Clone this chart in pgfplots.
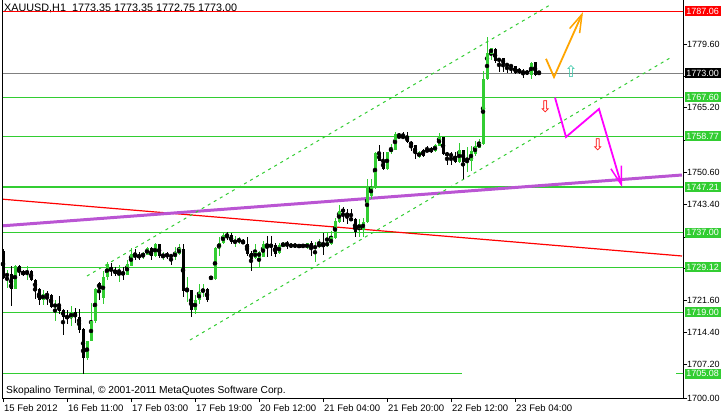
\documentclass[border=0pt]{standalone}
\usepackage{pgfplots}
\pgfplotsset{compat=1.18}
\usepackage{pgfplotstable}
\usepackage{fontspec}
\setmainfont{Liberation Sans}
\newfontfamily\symfont{DejaVu Sans}
\usetikzlibrary{arrows.meta}
\definecolor{cgreen}{RGB}{50,205,50}
\definecolor{cgrey}{RGB}{128,128,128}
\definecolor{corchid}{RGB}{186,85,211}
\definecolor{corange}{RGB}{255,165,0}
\definecolor{cmag}{RGB}{255,0,255}
\definecolor{cup}{RGB}{64,200,170}

\pgfplotstableread{
i o h l c
1 1727.1 1728.6 1724.5 1727.7
3 1724.3 1729.6 1724.2 1729.5
6 1728.0 1729.5 1726.2 1728.1
10 1721.7 1724.1 1720.7 1723.2
13 1720.2 1721.7 1717.0 1720.8
17 1717.6 1720.3 1715.8 1719.1
21 1708.6 1712.5 1708.2 1712.5
22 1712.5 1721.1 1712.4 1717.0
23 1717.0 1724.5 1716.6 1724.3
25 1722.1 1728.4 1720.9 1726.9
26 1726.9 1730.3 1726.2 1729.9
29 1728.0 1729.6 1725.8 1728.4
31 1727.5 1730.8 1727.4 1729.9
32 1729.5 1733.4 1729.4 1732.2
35 1731.6 1732.6 1731.0 1732.3
36 1732.0 1733.7 1731.9 1733.4
38 1731.6 1734.6 1731.5 1734.4
40 1731.6 1732.6 1730.7 1732.0
43 1731.4 1733.7 1730.7 1732.5
44 1732.2 1734.4 1732.0 1733.4
46 1723.8 1726.9 1721.3 1724.1
48 1719.4 1722.8 1718.5 1721.8
49 1721.7 1725.4 1720.9 1723.5
50 1723.5 1725.4 1722.4 1724.2
52 1726.6 1727.0 1726.5 1726.9
53 1726.6 1733.7 1726.2 1733.5
54 1733.4 1735.9 1731.8 1734.7
55 1734.6 1737.1 1734.4 1736.5
58 1734.7 1736.1 1733.7 1735.2
59 1735.0 1736.1 1734.4 1735.4
63 1731.2 1734.3 1731.1 1732.7
64 1731.3 1732.8 1728.9 1732.7
65 1731.4 1735.2 1731.4 1734.4
69 1732.3 1734.6 1732.2 1734.2
70 1733.8 1734.9 1733.7 1734.6
72 1734.0 1734.6 1733.5 1734.1
73 1734.0 1734.6 1733.5 1734.1
76 1733.4 1734.7 1733.3 1734.6
78 1733.4 1734.8 1730.3 1734.0
79 1733.7 1735.6 1733.5 1734.6
81 1733.9 1737.1 1733.7 1734.8
82 1734.3 1737.4 1734.2 1735.9
83 1735.7 1740.4 1735.6 1739.7
84 1739.3 1743.2 1739.1 1741.9
89 1737.8 1740.1 1735.9 1738.9
90 1737.6 1740.2 1735.9 1739.4
91 1739.3 1749.1 1739.2 1747.2
92 1745.3 1749.2 1744.6 1747.4
93 1747.4 1755.1 1746.8 1754.9
96 1751.3 1755.2 1751.2 1755.1
97 1755.1 1757.0 1754.7 1756.2
98 1755.7 1759.7 1755.6 1759.2
104 1754.1 1755.4 1753.9 1755.1
108 1755.4 1757.0 1755.2 1756.7
109 1756.6 1759.6 1756.5 1758.6
114 1753.0 1757.2 1752.8 1755.6
116 1753.0 1756.4 1750.6 1753.3
117 1753.2 1756.6 1750.9 1755.4
118 1754.7 1757.7 1754.3 1756.6
119 1756.2 1758.2 1756.0 1757.2
120 1756.9 1773.4 1756.7 1771.7
121 1771.6 1781.2 1771.5 1777.7
122 1777.4 1778.8 1776.1 1778.7
132 1772.7 1775.6 1771.7 1775.3
}\bull

\pgfplotstableread{
i o h l c
0 1732.9 1733.3 1726.5 1726.8
2 1727.7 1729.5 1720.3 1724.3
4 1729.5 1729.6 1727.1 1728.0
5 1728.2 1728.6 1727.1 1727.5
7 1728.2 1728.6 1726.1 1726.2
8 1726.3 1726.4 1721.9 1724.1
9 1724.3 1724.5 1720.7 1721.7
11 1723.2 1723.9 1720.7 1722.6
12 1722.8 1723.2 1720.0 1720.2
14 1720.5 1722.6 1718.5 1719.3
15 1719.6 1719.7 1713.8 1717.8
16 1718.1 1719.4 1716.4 1717.6
18 1719.0 1720.0 1716.6 1717.8
19 1717.8 1719.8 1714.3 1714.9
20 1715.3 1715.4 1705.1 1708.6
24 1725.6 1725.8 1721.7 1724.3
27 1729.2 1730.1 1727.1 1728.3
28 1728.6 1729.2 1727.1 1727.7
30 1728.1 1729.2 1726.3 1727.5
33 1731.9 1733.3 1730.8 1731.6
34 1731.9 1732.6 1730.7 1731.4
37 1733.4 1733.8 1730.7 1731.6
39 1734.4 1734.5 1731.3 1731.6
41 1732.2 1732.6 1731.1 1731.6
42 1731.8 1732.2 1729.6 1731.6
45 1733.3 1734.4 1722.4 1723.8
47 1723.9 1724.0 1717.8 1719.4
51 1724.2 1724.4 1721.3 1721.8
56 1736.5 1737.1 1735.2 1736.2
57 1736.5 1736.8 1734.4 1734.8
60 1735.2 1735.6 1734.3 1734.4
61 1734.4 1735.9 1731.8 1732.2
62 1732.4 1732.8 1728.4 1731.1
66 1734.4 1736.2 1731.4 1733.8
67 1734.2 1736.2 1731.8 1733.8
68 1734.1 1734.7 1731.4 1732.2
71 1734.7 1735.2 1733.3 1734.1
74 1734.4 1734.5 1733.4 1733.5
75 1734.3 1734.4 1733.5 1733.7
77 1734.6 1735.2 1731.8 1733.3
80 1734.6 1736.8 1732.0 1733.7
85 1742.3 1742.7 1739.3 1741.6
86 1741.5 1742.3 1738.9 1740.6
87 1740.3 1742.3 1739.6 1739.7
88 1740.1 1740.2 1735.9 1737.1
94 1754.9 1756.7 1753.1 1753.2
95 1753.2 1755.2 1751.2 1751.3
99 1758.8 1759.6 1758.4 1758.5
100 1758.8 1759.7 1758.2 1758.4
101 1758.8 1759.7 1757.3 1757.5
102 1757.5 1757.6 1755.4 1756.7
103 1756.7 1756.8 1753.7 1754.7
105 1755.7 1755.8 1754.1 1754.3
106 1755.8 1756.6 1755.1 1755.2
107 1756.0 1756.4 1754.9 1755.2
110 1758.6 1758.7 1754.5 1754.7
111 1754.9 1755.1 1752.2 1754.5
112 1754.8 1755.1 1752.2 1754.2
113 1754.2 1755.1 1752.7 1753.0
115 1755.6 1755.7 1749.1 1753.0
123 1778.5 1778.7 1775.3 1775.7
124 1776.2 1776.4 1773.4 1775.9
125 1776.4 1776.5 1773.2 1775.1
126 1775.1 1775.3 1773.1 1774.7
127 1774.7 1774.9 1773.1 1774.6
128 1774.6 1774.7 1772.9 1773.1
129 1774.0 1774.2 1772.9 1773.1
130 1773.4 1774.0 1772.0 1773.1
131 1773.4 1773.8 1772.5 1772.9
133 1775.5 1775.6 1772.3 1772.7
134 1773.35 1773.35 1772.75 1773.00
}\bear

\newcommand{\candles}[2]{%
  \addplot[only marks, mark=none, forget plot,
    error bars/y dir=both, error bars/y explicit, error bars/error mark=none,
    error bars/error bar style={draw=#2, line width=1pt}]
    table[x=i, y expr={(\thisrow{h}+\thisrow{l})/2}, y error expr={(\thisrow{h}-\thisrow{l})/2}] {#1};
  \addplot[only marks, mark=none, forget plot,
    error bars/y dir=both, error bars/y explicit, error bars/error mark=none,
    error bars/error bar style={draw=#2, line width=3pt}]
    table[x=i, y expr={(\thisrow{o}+\thisrow{c})/2}, y error expr={max(abs(\thisrow{o}-\thisrow{c})/2,0.12)}] {#1};
}

\tikzset{pbox/.style={anchor=west, xshift=1.5pt, inner xsep=1.5pt, inner ysep=0pt,
  minimum height=10pt, minimum width=36pt, text=white, font=\fontsize{9}{10}\selectfont}}

\begin{document}
\begin{tikzpicture}
\useasboundingbox (-2pt,-18pt) rectangle (719pt,398pt);
\begin{axis}[
  scale only axis, width=681pt, height=398pt,
  xmin=-0.25, xmax=170, ymin=1699.59, ymax=1789.56,
  axis x line*=bottom, axis y line*=right,
  axis line style={-, black, line width=1pt},
  every outer x axis line/.append style={-},
  every outer y axis line/.append style={-},
  tick align=outside, major tick length=4pt,
  tick style={black, line width=0.8pt},
  xtick={0,16,32,48,64,80,96,112,128},
  xticklabels={15 Feb 2012,16 Feb 11:00,17 Feb 03:00,17 Feb 19:00,20 Feb 12:00,21 Feb 04:00,21 Feb 20:00,22 Feb 12:00,23 Feb 04:00},
  ytick={1699.6,1707.2,1714.4,1721.6,1728.8,1736.0,1743.4,1750.6,1757.8,1765.2,1772.4,1779.6},
  yticklabels={1700.00,1707.20,1714.40,1721.60,,,1743.40,1750.60,,1765.20,,1779.60},
  xticklabel style={anchor=base west, inner sep=0pt, yshift=-9.5pt, xshift=1pt, font=\fontsize{9.5}{10}\selectfont},
  yticklabel style={anchor=west, inner sep=0pt, xshift=0pt, font=\fontsize{9}{10}\selectfont},
  clip mode=individual,
]
\node[anchor=west, inner sep=0pt, xshift=2pt, yshift=-8.5pt, font=\fontsize{10.8}{12}\selectfont]
  at (rel axis cs:0,1) {XAUUSD,H1\ \ 1773.35 1773.35 1772.75 1773.00};
\node[anchor=base west, inner sep=0pt, xshift=4pt, yshift=5pt, font=\fontsize{10.2}{12}\selectfont]
  at (rel axis cs:0,0) {Skopalino Terminal, © 2001-2011 MetaQuotes Software Corp.};

% horizontal levels
\addplot[red, line width=1pt, forget plot] coordinates {(-1,1787.06) (171,1787.06)};
\addplot[cgrey, line width=1pt, forget plot] coordinates {(-1,1773.00) (171,1773.00)};
\addplot[cgreen, line width=1pt, forget plot] coordinates {(-1,1767.60) (171,1767.60)};
\addplot[cgreen, line width=1pt, forget plot] coordinates {(-1,1758.77) (171,1758.77)};
\addplot[cgreen, line width=2pt, forget plot] coordinates {(-1,1747.21) (171,1747.21)};
\addplot[cgreen, line width=1pt, forget plot] coordinates {(-1,1737.00) (171,1737.00)};
\addplot[cgreen, line width=1pt, forget plot] coordinates {(-1,1729.12) (171,1729.12)};
\addplot[cgreen, line width=1pt, forget plot] coordinates {(-1,1719.00) (171,1719.00)};
\addplot[cgreen, line width=1pt, forget plot] coordinates {(-1,1705.08) (114.75,1705.08)};
\addplot[cgreen, line width=1pt, forget plot] coordinates {(168.3,1705.08) (171,1705.08)};

% trend lines and channel
\addplot[red, line width=1.2pt, forget plot] coordinates {(-0.75,1744.58) (169.75,1731.69)};
\addplot[corchid, line width=3pt, forget plot] coordinates {(-0.75,1738.47) (169.75,1750.00)};
\addplot[cgreen, line width=1pt, dash pattern=on 3pt off 4pt, forget plot] coordinates {(21,1727.17) (136.75,1788.43)};
\addplot[cgreen, line width=1pt, dash pattern=on 3pt off 4pt, forget plot] coordinates {(46.75,1712.70) (166.75,1776.45)};

% candles
\candles{\bull}{cgreen}
\candles{\bear}{black}

% forecast arrows
\addplot[corange, line width=1.8pt, forget plot, -{Straight Barb[length=18pt,width=11pt,line width=1.5pt]}]
  coordinates {(135.75,1776.27) (137.75,1772.15) (145,1786.84)};
\addplot[cmag, line width=1.8pt, forget plot, -{Straight Barb[length=18pt,width=11pt,line width=1.5pt]}]
  coordinates {(138,1767.5) (140.75,1758.59) (149,1764.92) (154.75,1747.29)};

\node[text=cup, font=\symfont\fontsize{16}{16}\selectfont, inner sep=0pt] at (axis cs:142,1773.3) {⇧};
\node[text=red, font=\symfont\fontsize{16}{16}\selectfont, inner sep=0pt] at (axis cs:135.6,1765.3) {⇩};
\node[text=red, font=\symfont\fontsize{16}{16}\selectfont, inner sep=0pt] at (axis cs:148.7,1756.7) {⇩};

% price labels
\node[pbox, fill=red] at (axis cs:170,1787.06) {1787.06};
\node[pbox, fill=black] at (axis cs:170,1773.00) {1773.00};
\node[pbox, fill=cgreen] at (axis cs:170,1767.60) {1767.60};
\node[pbox, fill=cgreen] at (axis cs:170,1758.77) {1758.77};
\node[pbox, fill=cgreen] at (axis cs:170,1747.21) {1747.21};
\node[pbox, fill=cgreen] at (axis cs:170,1737.00) {1737.00};
\node[pbox, fill=cgreen] at (axis cs:170,1729.12) {1729.12};
\node[pbox, fill=cgreen] at (axis cs:170,1719.00) {1719.00};
\node[pbox, fill=cgreen] at (axis cs:170,1705.08) {1705.08};

\draw[black, line width=1pt] (rel axis cs:0,0) -- (rel axis cs:0,1);
\end{axis}
\end{tikzpicture}
\end{document}
